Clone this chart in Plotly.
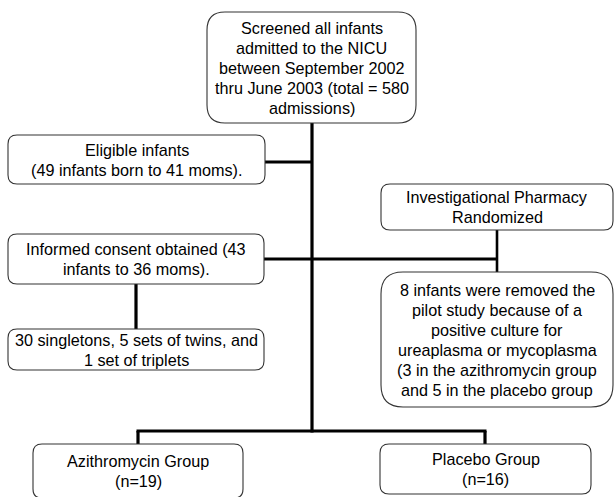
import plotly.graph_objects as go

# ---- content (text of each flowchart box) ----
box_names = ["screened", "eligible", "consent", "births", "pharmacy", "removed", "azithro", "placebo"]
box_labels = [
    ["Screened all infants", "admitted to the NICU", "between September 2002",
     "thru June 2003 (total = 580", "admissions)"],
    ["Eligible infants", "(49 infants born to 41 moms)."],
    ["Informed consent obtained (43", "infants to 36 moms)."],
    ["30 singletons, 5 sets of twins, and", "1 set of triplets"],
    ["Investigational Pharmacy", "Randomized"],
    ["8 infants were removed the", "pilot study because of a", "positive culture for",
     "ureaplasma or mycoplasma", "(3 in the azithromycin group", "and 5 in the placebo group"],
    ["Azithromycin Group", "(n=19)"],
    ["Placebo Group", "(n=16)"],
]

# ---- layout geometry (pixels, y downward) ----
geom = {
    "screened": (207, 12, 416, 123, 18),
    "eligible": (8, 135, 265, 184, 9),
    "consent": (8, 234, 264, 284, 9),
    "births": (8, 329, 264, 370, 9),
    "pharmacy": (381, 184, 613, 230, 9),
    "removed": (381, 272, 613, 407, 22),
    "azithro": (33, 444, 243, 498, 9),
    "placebo": (380, 444, 591, 494, 9),
}
LINE_GAP = 20
FONT_SIZE = 16.2

connectors = [
    # (x0, y0, x1, y1, width)
    (312, 123, 312, 432.5, 3.2),
    (265, 162, 312, 162, 3.2),
    (264, 259, 498, 259, 3.2),
    (497, 230, 497, 272, 2.6),
    (136, 284, 136, 329, 3.2),
    (136.5, 431, 486.5, 431, 3.2),
    (138, 431, 138, 444, 3.2),
    (485, 431, 485, 444, 3.2),
]


def rounded_path(x0, y0, x1, y1, r):
    return (
        f"M {x0 + r},{y0} L {x1 - r},{y0} Q {x1},{y0} {x1},{y0 + r} "
        f"L {x1},{y1 - r} Q {x1},{y1} {x1 - r},{y1} "
        f"L {x0 + r},{y1} Q {x0},{y1} {x0},{y1 - r} "
        f"L {x0},{y0 + r} Q {x0},{y0} {x0 + r},{y0} Z"
    )


fig = go.Figure()
fig.add_trace(go.Scatter(x=[0, 614], y=[0, 497], mode="markers",
                         marker=dict(opacity=0), hoverinfo="skip", showlegend=False))

shapes = []
for (x0, y0, x1, y1, w) in connectors:
    shapes.append(dict(type="line", xref="x", yref="y", x0=x0, y0=y0, x1=x1, y1=y1,
                       line=dict(color="black", width=w), layer="above"))

annotations = []
for name, lines in zip(box_names, box_labels):
    x0, y0, x1, y1, r = geom[name]
    shapes.append(dict(type="path", xref="x", yref="y", path=rounded_path(x0, y0, x1, y1, r),
                       line=dict(color="#333333", width=1.1), fillcolor="white", layer="above"))
    cx, cy = (x0 + x1) / 2, (y0 + y1) / 2
    n = len(lines)
    for i, line in enumerate(lines):
        annotations.append(dict(x=cx, y=cy + (i - (n - 1) / 2) * LINE_GAP, xref="x", yref="y",
                                text=line, showarrow=False, align="center",
                                xanchor="center", yanchor="middle",
                                font=dict(family="Liberation Sans, Arial, sans-serif",
                                          size=FONT_SIZE, color="#000000")))

fig.update_layout(
    width=614, height=497,
    margin=dict(l=0, r=0, t=0, b=0),
    paper_bgcolor="white", plot_bgcolor="white",
    xaxis=dict(range=[0, 614], visible=False, fixedrange=True),
    yaxis=dict(range=[497, 0], visible=False, fixedrange=True),
    shapes=shapes, annotations=annotations,
    showlegend=False,
)

fig.write_html("out.html", config={"displayModeBar": False},
               post_script="document.body.style.margin='0';document.body.style.padding='0';")
